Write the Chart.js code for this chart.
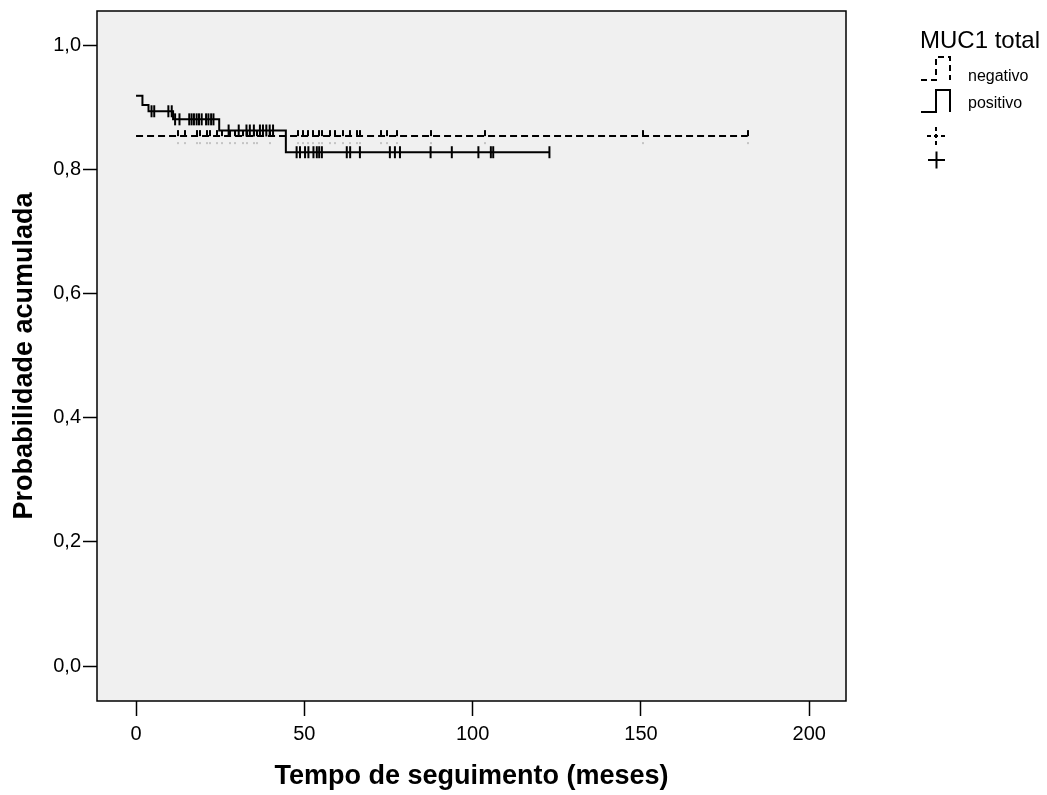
<!DOCTYPE html>
<html>
<head>
<meta charset="utf-8">
<title>MUC1 total - probabilidade acumulada</title>
<script src="https://cdn.jsdelivr.net/npm/chart.js"></script>
<style>
    body { margin: 0; background: #ffffff; }
    #chart-container { width: 1047px; height: 795px; position: relative; }
</style>
</head>
<body>
<div id="chart-container"><canvas id="km_chart"></canvas></div>
<script>
/* Kaplan-Meier curves, MUC1 total (negativo x positivo) */

const xTicks = [0, 50, 100, 150, 200];
const xTickLabels = ['0', '50', '100', '150', '200'];
const yTicks = [0.0, 0.2, 0.4, 0.6, 0.8, 1.0];
const yTickLabels = ['0,0', '0,2', '0,4', '0,6', '0,8', '1,0'];

// negativo: step times (meses) and the cumulative probability from each time on
const negativoTimes = [0, 181.7];
const negativoSurvival = [0.854, 0.854];
const negativoCensored = [12.6, 14.6, 18.0, 19.0, 21.0, 22.0, 24.0, 25.5, 27.9, 29.4,
    31.9, 32.9, 34.9, 35.9, 39.8, 48.2, 49.7, 51.2, 52.7, 54.2, 55.2, 57.6, 59.1, 61.6,
    63.6, 65.6, 66.5, 72.9, 74.4, 77.4, 87.7, 103.6, 150.5, 181.7];

// positivo
const positivoTimes = [0, 1.9, 3.7, 11.0, 24.7, 44.5, 122.8];
const positivoSurvival = [0.919, 0.904, 0.894, 0.881, 0.863, 0.828, 0.828];
const positivoCensored = [4.6, 5.4, 9.6, 10.6, 11.6, 12.9, 15.8, 16.5, 17.2, 18.0, 18.7,
    19.5, 20.8, 21.5, 22.3, 23.0, 27.5, 30.5, 32.8, 33.8, 35.0, 36.8, 37.7, 38.7, 39.7,
    40.7, 47.7, 48.7, 50.2, 51.2, 52.7, 53.7, 54.4, 55.2, 62.6, 63.6, 66.5, 75.4, 76.9,
    78.4, 87.5, 93.8, 101.7, 105.4, 106.1, 122.8];

const FONT = '"Liberation Sans", Arial, Helvetica, sans-serif';

window.onload = initialize;

function initialize() {
    drawChart();
}

// value of the step curve at time t
function survivalAt(times, survival, t) {
    let value = survival[0];
    for (let k = 0; k < times.length; k++) {
        if (times[k] <= t) {
            value = survival[k];
        }
    }
    return value;
}

function toPoints(times, survival) {
    let points = [];
    for (let k = 0; k < times.length; k++) {
        points.push({x: times[k], y: survival[k]});
    }
    return points;
}

function censorPoints(censored, times, survival) {
    return censored.map((t) => ({x: t, y: survivalAt(times, survival, t)}));
}

// censor mark of the dashed group: dark upper half, faint lower dash
function makeDashedTick() {
    let c = document.createElement('canvas');
    c.width = 2;
    c.height = 18;
    let ctx = c.getContext('2d');
    ctx.fillStyle = '#000000';
    ctx.fillRect(0, 3, 2, 6);
    ctx.fillStyle = '#c4c4c4';
    ctx.fillRect(0, 15, 2, 2);
    return c;
}

const plotFrame = {
    id: 'plotFrame',
    beforeDatasetsDraw(chart) {
        const {ctx, chartArea: a} = chart;
        ctx.save();
        ctx.fillStyle = '#f0f0f0';
        ctx.fillRect(a.left, a.top, a.right - a.left, a.bottom - a.top);
        ctx.strokeStyle = '#000000';
        ctx.lineWidth = 1.5;
        ctx.strokeRect(a.left, a.top, a.right - a.left, a.bottom - a.top);
        ctx.restore();
    }
};

// legend at the right with step-shaped keys
const stepLegend = {
    id: 'stepLegend',
    afterDraw(chart) {
        const ctx = chart.ctx;
        ctx.save();
        ctx.fillStyle = '#000000';
        ctx.strokeStyle = '#000000';
        ctx.textBaseline = 'alphabetic';
        ctx.font = '24px ' + FONT;
        ctx.fillText('MUC1 total', 920, 48);

        ctx.lineWidth = 2;
        // negativo key
        ctx.setLineDash([6, 4]);
        ctx.beginPath();
        ctx.moveTo(921, 80);
        ctx.lineTo(936, 80);
        ctx.lineTo(936, 57);
        ctx.lineTo(950, 57);
        ctx.lineTo(950, 80);
        ctx.stroke();
        // positivo key
        ctx.setLineDash([]);
        ctx.beginPath();
        ctx.moveTo(921, 112);
        ctx.lineTo(936, 112);
        ctx.lineTo(936, 90);
        ctx.lineTo(950, 90);
        ctx.lineTo(950, 112);
        ctx.stroke();

        ctx.font = '16px ' + FONT;
        ctx.fillText('negativo', 968, 81);
        ctx.fillText('positivo', 968, 108);

        // censor keys
        ctx.setLineDash([4, 3]);
        ctx.beginPath();
        ctx.moveTo(927, 136);
        ctx.lineTo(945, 136);
        ctx.moveTo(936, 127);
        ctx.lineTo(936, 145);
        ctx.stroke();
        ctx.setLineDash([]);
        ctx.beginPath();
        ctx.moveTo(928, 160);
        ctx.lineTo(945, 160);
        ctx.moveTo(936.5, 151.5);
        ctx.lineTo(936.5, 168.5);
        ctx.stroke();
        ctx.restore();
    }
};

function drawChart() {
    const data = {
        datasets: [
            {
                label: 'negativo',
                data: toPoints(negativoTimes, negativoSurvival),
                stepped: 'before',
                borderColor: '#000000',
                borderWidth: 2,
                borderDash: [7, 4],
                pointRadius: 0,
                fill: false
            },
            {
                label: 'positivo',
                data: toPoints(positivoTimes, positivoSurvival),
                stepped: 'before',
                borderColor: '#000000',
                borderWidth: 2,
                pointRadius: 0,
                fill: false
            },
            {
                label: 'negativo-censurado',
                data: censorPoints(negativoCensored, negativoTimes, negativoSurvival),
                showLine: false,
                pointStyle: makeDashedTick(),
                pointRadius: 6
            },
            {
                label: 'positivo-censurado',
                data: censorPoints(positivoCensored, positivoTimes, positivoSurvival),
                showLine: false,
                pointStyle: 'line',
                rotation: 90,
                pointRadius: 6,
                borderColor: '#000000',
                borderWidth: 2
            }
        ]
    };

    const config = {
        type: 'line',
        data: data,
        plugins: [plotFrame, stepLegend],
        options: {
            responsive: true,
            maintainAspectRatio: false,
            animation: false,
            events: [],
            layout: { padding: { left: 0, top: 11, right: 201, bottom: 0 } },
            plugins: {
                legend: { display: false },
                tooltip: { enabled: false }
            },
            scales: {
                x: {
                    type: 'linear',
                    min: -11.6,
                    max: 210.9,
                    afterBuildTicks: (scale) => { scale.ticks = xTicks.map((v) => ({value: v})); },
                    afterFit: (scale) => {
                        scale.height = 94;
                        scale.paddingLeft = 0;
                        scale.paddingRight = 0;
                    },
                    grid: { drawOnChartArea: false, tickLength: 15, tickColor: '#000000', tickWidth: 1.5 },
                    border: { display: false },
                    ticks: {
                        padding: 6,
                        color: '#000000',
                        font: { family: FONT, size: 20 },
                        callback: (value) => xTickLabels[xTicks.indexOf(value)]
                    },
                    title: {
                        display: true,
                        text: 'Tempo de seguimento (meses)',
                        color: '#000000',
                        font: { family: FONT, size: 27, weight: 'bold' },
                        padding: { top: 0, bottom: 2 }
                    }
                },
                y: {
                    type: 'linear',
                    min: -0.0564,
                    max: 1.0556,
                    afterBuildTicks: (scale) => { scale.ticks = yTicks.map((v) => ({value: v})); },
                    afterFit: (scale) => {
                        scale.width = 97;
                        scale.paddingTop = 0;
                        scale.paddingBottom = 0;
                    },
                    grid: { drawOnChartArea: false, tickLength: 14, tickColor: '#000000', tickWidth: 1.5 },
                    border: { display: false },
                    ticks: {
                        padding: 2,
                        color: '#000000',
                        font: { family: FONT, size: 20 },
                        callback: (value) => yTickLabels[yTicks.indexOf(value)]
                    },
                    title: {
                        display: true,
                        text: 'Probabilidade acumulada',
                        color: '#000000',
                        font: { family: FONT, size: 27, weight: 'bold' },
                        padding: { top: 8, bottom: 0 }
                    }
                }
            }
        }
    };

    new Chart(document.getElementById('km_chart'), config);
}
</script>
</body>
</html>
